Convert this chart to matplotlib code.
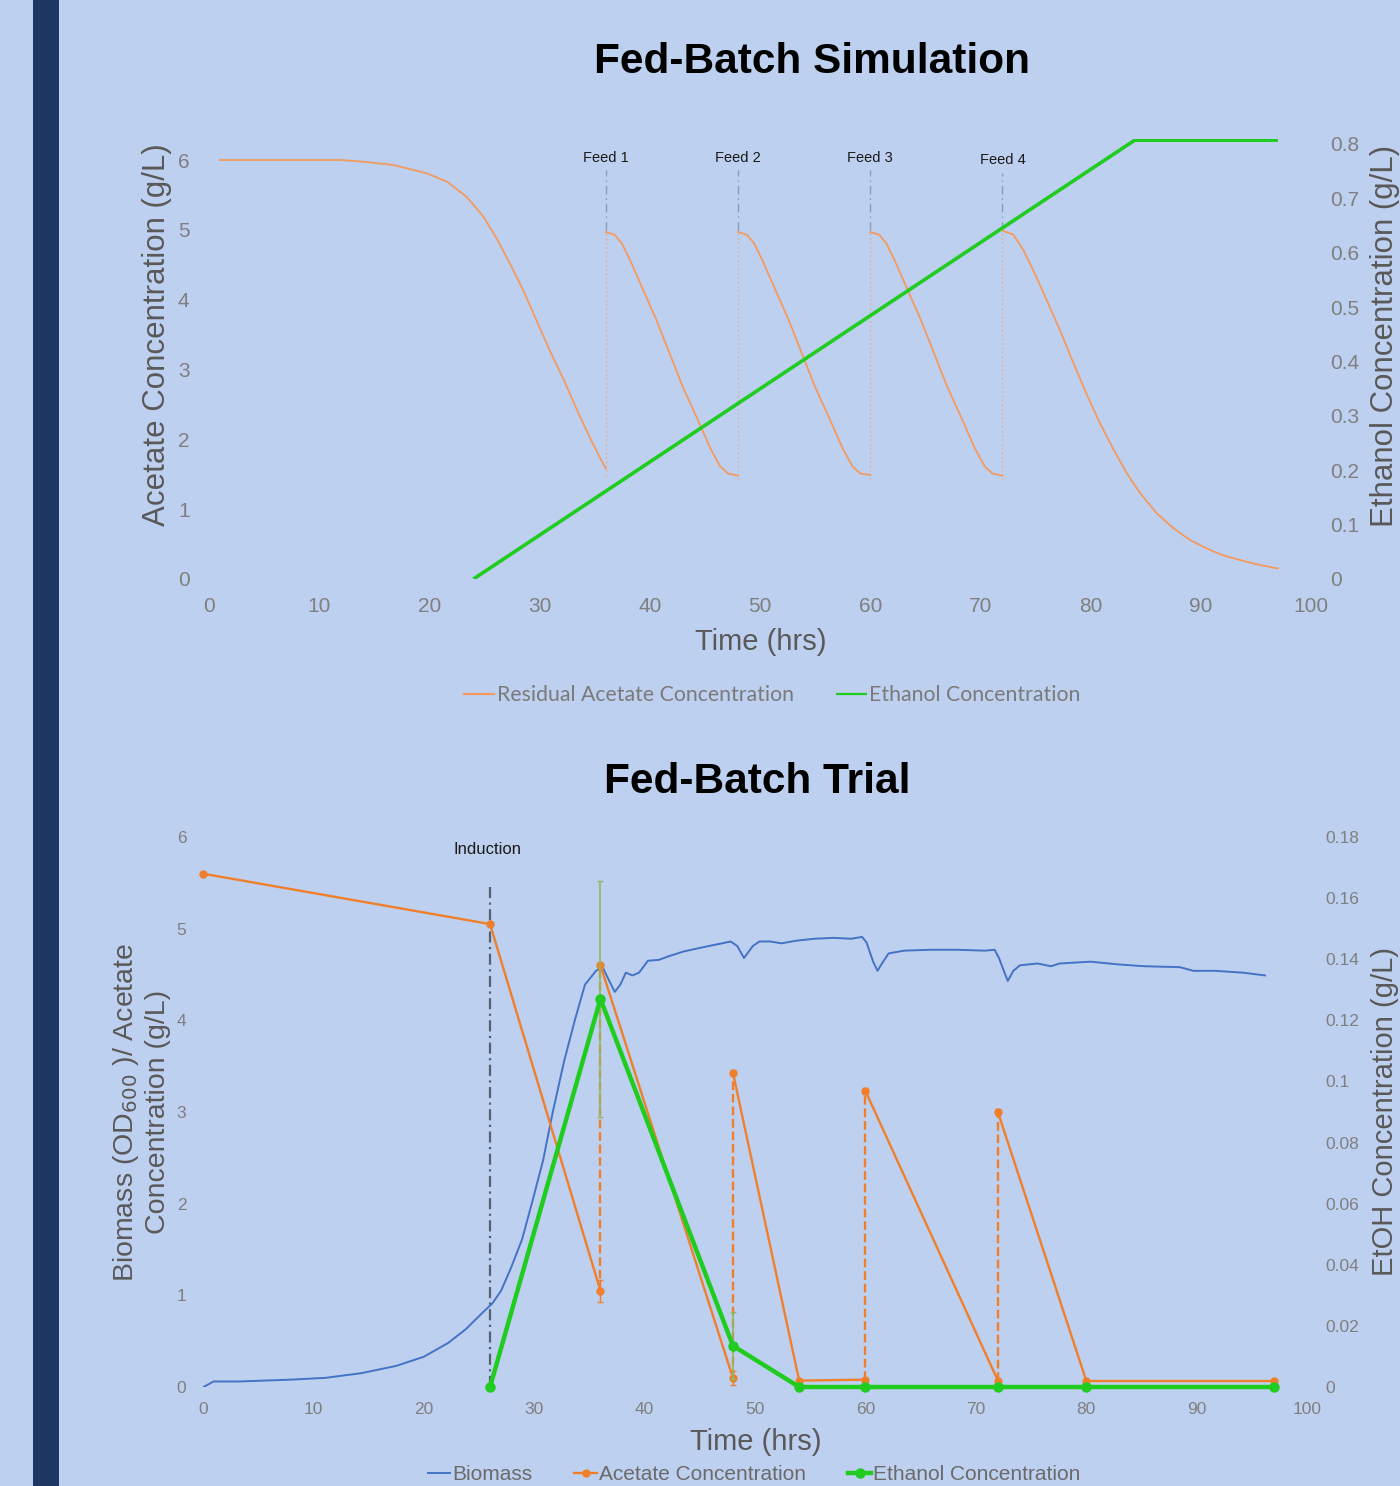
import matplotlib
matplotlib.use("Agg")
import matplotlib.pyplot as plt
from matplotlib.patches import Rectangle

W, H = 1400, 1486
BG = "#BED0EF"
NAVY = "#1D3864"
GREY_TXT = "#595959"
TICK_TXT = "#7F7F7F"

# ---------------- Fed-batch simulation data ----------------
sim_acetate_t = [1.0, 8.0, 12.0, 13.7, 16.7, 19.75, 21.6, 23.4, 24.9, 26.1, 27.3, 28.5,
                 29.7, 30.9, 32.2, 33.4, 34.6, 35.5, 36.0,
                 36.0, 36.8, 37.45, 38.2, 39.4, 40.6, 41.8, 43.0, 44.3, 45.5, 46.4, 47.1, 48.0,
                 48.0, 48.8, 49.45, 50.2, 51.4, 52.6, 53.8, 55.0, 56.3, 57.5, 58.4, 59.1, 60.0,
                 60.0, 60.8, 61.45, 62.2, 63.4, 64.6, 65.8, 67.0, 68.3, 69.5, 70.4, 71.1, 72.0,
                 72.0, 73.0, 73.9, 74.8, 76.0, 77.2, 78.4, 79.6, 80.85, 82.1, 83.3, 84.5,
                 86.0, 87.5, 89.0, 90.5, 92.0, 93.6, 95.1, 97.0]
sim_acetate_c = [6.0, 6.0, 6.0, 5.98, 5.93, 5.81, 5.69, 5.47, 5.19, 4.88, 4.52, 4.14,
                 3.71, 3.28, 2.85, 2.42, 2.01, 1.73, 1.585,
                 4.97, 4.93, 4.81, 4.57, 4.14, 3.71, 3.23, 2.75, 2.30, 1.87, 1.61, 1.51, 1.48,
                 4.97, 4.93, 4.81, 4.57, 4.14, 3.71, 3.23, 2.75, 2.30, 1.87, 1.61, 1.51, 1.49,
                 4.97, 4.93, 4.81, 4.57, 4.14, 3.71, 3.23, 2.75, 2.30, 1.87, 1.61, 1.51, 1.48,
                 4.99, 4.93, 4.71, 4.42, 4.0, 3.57, 3.11, 2.66, 2.23, 1.85, 1.51, 1.23,
                 0.94, 0.73, 0.56, 0.44, 0.34, 0.27, 0.21, 0.15]
sim_ethanol_t = [24.0, 84.0, 97.0]
sim_ethanol_c = [0.0, 0.807, 0.807]
feed_times = [36, 48, 60, 72]
feed_labels = ["Feed 1", "Feed 2", "Feed 3", "Feed 4"]
feed_low = [1.55, 1.5, 1.5, 1.5]
feed_high = [5.0, 5.0, 5.0, 5.0]
feed_top = [5.85, 5.85, 5.85, 5.82]
sim_xticks = [0, 10, 20, 30, 40, 50, 60, 70, 80, 90, 100]
sim_yticks_left = [0, 1, 2, 3, 4, 5, 6]
sim_yticks_right = [0, 0.1, 0.2, 0.3, 0.4, 0.5, 0.6, 0.7, 0.8]

# ---------------- Fed-batch trial data ----------------
biomass_t = [0.05, 0.95, 3.2, 7.9, 11.1, 14.3, 17.5, 20.0, 22.2, 23.8, 25.4, 26.2, 27.0,
             27.9, 28.9, 29.8, 30.8, 31.7, 32.7, 33.7, 34.6, 35.6, 36.2, 36.8, 37.3,
             37.8, 38.3, 38.9, 39.5, 40.3, 41.3, 42.2, 43.5, 45.0, 46.6, 47.8, 48.4,
             49.0, 49.8, 50.4, 51.4, 52.4, 53.8, 55.4, 57.1, 58.7, 59.7, 60.1, 60.7,
             61.1, 61.5, 62.1, 63.5, 65.9, 68.3, 70.8, 71.7, 72.1, 72.6, 72.9, 73.4,
             74.0, 75.6, 76.8, 77.6, 80.4, 82.9, 85.3, 88.5, 89.7, 91.7, 94.2, 96.2]
biomass_od = [0.0, 0.06, 0.06, 0.08, 0.10, 0.15, 0.23, 0.33, 0.48, 0.63, 0.82, 0.91, 1.05,
              1.30, 1.61, 2.01, 2.47, 3.01, 3.55, 4.01, 4.39, 4.54, 4.58, 4.43, 4.31,
              4.39, 4.52, 4.49, 4.52, 4.65, 4.66, 4.70, 4.75, 4.79, 4.83, 4.86, 4.81,
              4.68, 4.81, 4.86, 4.86, 4.84, 4.87, 4.89, 4.90, 4.89, 4.91, 4.85, 4.64,
              4.54, 4.62, 4.73, 4.76, 4.77, 4.77, 4.76, 4.77, 4.68, 4.52, 4.43, 4.54,
              4.60, 4.62, 4.59, 4.62, 4.64, 4.61, 4.59, 4.58, 4.54, 4.54, 4.52, 4.49]
trial_acetate_t = [0, 26, 36, 36, 48, 48, 54, 60, 60, 72, 72, 80, 97]
trial_acetate_c = [5.6, 5.05, 1.05, 4.6, 0.10, 3.43, 0.07, 0.08, 3.23, 0.07, 3.0, 0.07, 0.07]
trial_acetate_err = [0, 0, 0.12, 0.03, 0.08, 0.03, 0, 0, 0.03, 0, 0.03, 0, 0]
trial_ethanol_t = [26, 36, 48, 54, 60, 72, 80, 97]
trial_ethanol_c = [0.0, 0.127, 0.0135, 0.0, 0.0, 0.0, 0.0, 0.0]
trial_ethanol_err = [0.0, 0.0385, 0.011, 0.0, 0.0, 0.0, 0.0, 0.0]
induction_time = 26
trial_xticks = [0, 10, 20, 30, 40, 50, 60, 70, 80, 90, 100]
trial_yticks_left = [0, 1, 2, 3, 4, 5, 6]
trial_yticks_right = [0, 0.02, 0.04, 0.06, 0.08, 0.1, 0.12, 0.14, 0.16, 0.18]

ORANGE_SIM = "#F39A5E"
GREEN = "#1FCC1F"
ORANGE = "#F07F2C"
BLUE = "#4472C4"
OLIVE = "#8DB864"

FONT = ["Liberation Sans", "DejaVu Sans"]
plt.rcParams["font.family"] = FONT


def fx(x):
    return x / W


def fy(y):
    return 1 - y / H


def fmt_num(v):
    return "%g" % v


def split_at_steps(ts, cs):
    """Split a series into runs wherever the time repeats (a feed step)."""
    runs, cur_t, cur_c = [], [ts[0]], [cs[0]]
    for t, c in zip(ts[1:], cs[1:]):
        if t == cur_t[-1]:
            runs.append((cur_t, cur_c))
            cur_t, cur_c = [t], [c]
        else:
            cur_t.append(t)
            cur_c.append(c)
    runs.append((cur_t, cur_c))
    return runs


fig = plt.figure(figsize=(W / 100, H / 100), dpi=100, facecolor=BG)
fig.patches.append(Rectangle((fx(33), 0), fx(59) - fx(33), 1, transform=fig.transFigure,
                             facecolor=NAVY, edgecolor="none", zorder=0))


def style_axes(ax):
    ax.set_facecolor("none")
    for s in ax.spines.values():
        s.set_visible(False)


# ================= Fed-Batch Simulation =================
top_px, bot_px = 139, 579
ax1 = fig.add_axes([fx(209), fy(bot_px), fx(1311) - fx(209), (bot_px - top_px) / H])
ax1b = ax1.twinx()
for a in (ax1, ax1b):
    style_axes(a)
ax1.set_xlim(0, 100)
ax1.set_ylim(0, (bot_px - top_px) / 69.83)
ax1b.set_ylim(0, (bot_px - top_px) / 543.75)

ax1.axhline(0, color="#B4C6E4", lw=0.8, zorder=1)
acet_line = None
for ts, cs in split_at_steps(sim_acetate_t, sim_acetate_c):
    ln, = ax1.plot(ts, cs, color=ORANGE_SIM, lw=1.3, zorder=3, solid_joinstyle="round",
                   label="Residual Acetate Concentration")
    if acet_line is None:
        acet_line = ln
for t, lo, hi, top, lab in zip(feed_times, feed_low, feed_high, feed_top, feed_labels):
    ax1.vlines(t, hi, top, colors="#8C9CB8", lw=1.0, linestyles=(0, (6, 3, 1, 3)), zorder=2)
    ax1.vlines(t, lo - 0.08, hi, colors="#E2AE92", lw=0.9, linestyles=(0, (1.5, 2.0)),
               zorder=2)
    ax1.text(t, top + 0.08, lab, ha="center", va="bottom", fontsize=10.5, color="#1A1A1A")
eth_line, = ax1b.plot(sim_ethanol_t, sim_ethanol_c, color=GREEN, lw=2.6, zorder=4,
                      label="Ethanol Concentration", solid_capstyle="butt")

ax1.set_xticks(sim_xticks)
ax1.set_yticks(sim_yticks_left)
ax1b.set_yticks(sim_yticks_right)
ax1.set_xticklabels([fmt_num(v) for v in sim_xticks])
ax1.set_yticklabels([fmt_num(v) for v in sim_yticks_left])
ax1b.set_yticklabels([fmt_num(v) for v in sim_yticks_right])
ax1.tick_params(axis="both", length=0, labelsize=15, labelcolor=TICK_TXT)
ax1.tick_params(axis="x", pad=13)
ax1.tick_params(axis="y", pad=14)
ax1b.tick_params(axis="y", length=0, labelsize=15, labelcolor=TICK_TXT, pad=14)

fig.text(fx(812), fy(62), "Fed-Batch Simulation", ha="center", va="center",
         fontsize=30.5, fontweight="bold", color="black")
fig.text(fx(157), fy(335), "Acetate Concentration (g/L)", rotation=90, ha="center",
         va="center", fontsize=22.5, color=GREY_TXT)
fig.text(fx(1385), fy(336), "Ethanol Concentration (g/L)", rotation=90, ha="center",
         va="center", fontsize=22.5, color=GREY_TXT)
fig.text(fx(761), fy(642), "Time (hrs)", ha="center", va="center", fontsize=21,
         color=GREY_TXT)

leg1 = fig.legend([acet_line, eth_line], [acet_line.get_label(), eth_line.get_label()],
                  loc="center", bbox_to_anchor=(fx(772), fy(695)), ncol=2, frameon=False,
                  prop={"family": ["Lato", "DejaVu Sans"], "size": 15.3},
                  handlelength=1.45, handletextpad=0.1, columnspacing=2.0,
                  labelcolor="#7A7A7A")
for l in leg1.get_lines():
    l.set_linewidth(1.6)

# ================= Fed-Batch Trial =================
top2, bot2 = 837, 1387
ax2 = fig.add_axes([fx(203), fy(bot2), fx(1307) - fx(203), (bot2 - top2) / H])
ax2b = ax2.twinx()
for a in (ax2, ax2b):
    style_axes(a)
ax2.set_xlim(0, 100)
ax2.set_ylim(0, 6)
ax2b.set_ylim(0, 0.18)

ax2.vlines(induction_time, 0, 5.5, colors="#555F70", lw=1.6, linestyles=(0, (5, 2, 1, 2)),
           zorder=2)
ax2.text(induction_time - 0.2, 5.86, "Induction", ha="center", va="center", fontsize=12,
         color="#1A1A1A")

bio_line, = ax2.plot(biomass_t, biomass_od, color=BLUE, lw=1.4, zorder=3,
                     solid_joinstyle="round", label="Biomass")

# acetate: solid between sampling times, dashed where a feed step raises the level
ac_seg = None
for i in range(len(trial_acetate_t) - 1):
    t0, t1 = trial_acetate_t[i], trial_acetate_t[i + 1]
    c0, c1 = trial_acetate_c[i], trial_acetate_c[i + 1]
    ls = "--" if t0 == t1 else "-"
    seg, = ax2.plot([t0, t1], [c0, c1], color=ORANGE, lw=1.7, ls=ls, zorder=4)
    if ac_seg is None:
        ac_seg = seg
ac_err_t = [t for t, e in zip(trial_acetate_t, trial_acetate_err) if e > 0]
ac_err_c = [c for c, e in zip(trial_acetate_c, trial_acetate_err) if e > 0]
ac_err_e = [e for e in trial_acetate_err if e > 0]
ax2.errorbar(ac_err_t, ac_err_c, yerr=ac_err_e, fmt="none",
             ecolor=ORANGE, elinewidth=1.0, capsize=2, zorder=4)
ac_marks, = ax2.plot(trial_acetate_t, trial_acetate_c, ls="none", marker="o",
                     ms=5, color=ORANGE, zorder=5, clip_on=False)

et_err_t = [t for t, e in zip(trial_ethanol_t, trial_ethanol_err) if e > 0]
et_err_c = [c for c, e in zip(trial_ethanol_c, trial_ethanol_err) if e > 0]
et_err_e = [e for e in trial_ethanol_err if e > 0]
ax2b.errorbar(et_err_t, et_err_c, yerr=et_err_e, fmt="none",
              ecolor=OLIVE, elinewidth=1.2, capsize=2, zorder=3)
et_line, = ax2b.plot(trial_ethanol_t, trial_ethanol_c, color=GREEN, lw=3.2, marker="o",
                     ms=6.5, zorder=6, clip_on=False)

ax2.set_xticks(trial_xticks)
ax2.set_yticks(trial_yticks_left)
ax2b.set_yticks(trial_yticks_right)
ax2.set_xticklabels([fmt_num(v) for v in trial_xticks])
ax2.set_yticklabels([fmt_num(v) for v in trial_yticks_left])
ax2b.set_yticklabels([fmt_num(v) for v in trial_yticks_right])
ax2.tick_params(axis="both", length=0, labelsize=12.5, labelcolor=TICK_TXT)
ax2.tick_params(axis="x", pad=11)
ax2.tick_params(axis="y", pad=12)
ax2b.tick_params(axis="y", length=0, labelsize=12.5, labelcolor=TICK_TXT, pad=13)

fig.text(fx(757), fy(782), "Fed-Batch Trial", ha="center", va="center",
         fontsize=30.5, fontweight="bold", color="black")
fig.text(fx(141), fy(1112), "Biomass (OD$_{600}$ )/ Acetate\nConcentration (g/L)",
         rotation=90, ha="center", va="center", fontsize=20.5, color=GREY_TXT,
         linespacing=1.2)
fig.text(fx(1385), fy(1112), "EtOH Concentration (g/L)", rotation=90, ha="center",
         va="center", fontsize=21, color=GREY_TXT)
fig.text(fx(756), fy(1442), "Time (hrs)", ha="center", va="center", fontsize=21,
         color=GREY_TXT)

fig.legend([bio_line, (ac_seg, ac_marks), et_line],
           ["Biomass", "Acetate Concentration", "Ethanol Concentration"],
           loc="center", bbox_to_anchor=(fx(754), fy(1475)), ncol=3, frameon=False,
           prop={"size": 15}, handlelength=1.1, handletextpad=0.1,
           columnspacing=2.0, labelcolor="#6A6A6A")

fig.savefig("out.png", dpi=100, facecolor=BG)
